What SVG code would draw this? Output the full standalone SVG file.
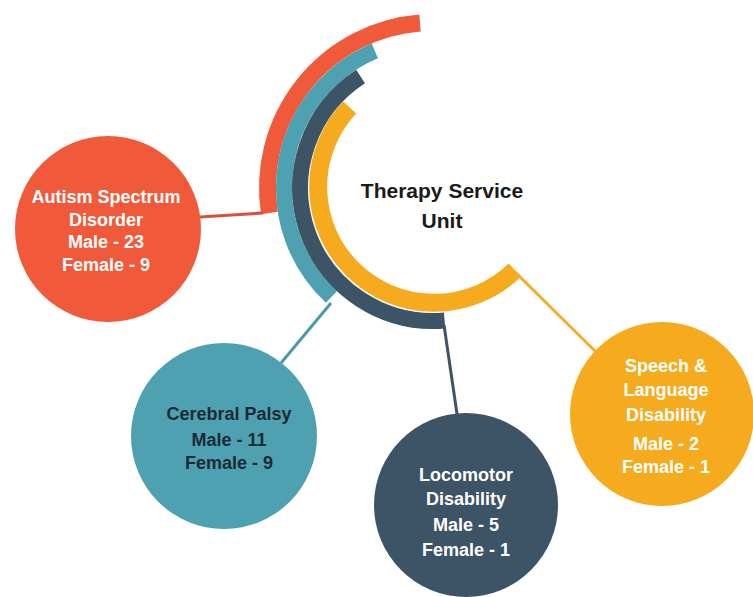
<svg xmlns="http://www.w3.org/2000/svg" width="753" height="597" viewBox="0 0 753 597">
<style>
.band{fill:none;stroke-linecap:butt}
.conn{fill:none;stroke-width:3;stroke-linecap:butt}
.t{font-family:"Liberation Sans",Arial,sans-serif;font-weight:bold;text-anchor:middle}
.w{fill:#ffffff;font-size:18px}
.d{fill:#1c2a35;font-size:18px}
.title{fill:#1a1a1a;font-size:21px}
</style>
<rect width="753" height="597" fill="#ffffff"/>
<g id="hub">
<path class="band" d="M 420.0 23.0 A 165.5 165.5 0 0 0 269.4 213.0" stroke="#f05a3a" stroke-width="17"/>
<path class="band" d="M 374.8 50.8 A 149 149 0 0 0 331.4 297.0" stroke="#4ea1b1" stroke-width="16"/>
<path class="band" d="M 360.6 76.5 A 133 133 0 0 0 444.6 320.5" stroke="#3d5366" stroke-width="16"/>
<path class="band" d="M 349.6 107.4 A 116 116 0 0 0 515.0 270.0" stroke="#f5ab1d" stroke-width="18"/>
<text class="t title" x="442" y="198">Therapy Service</text>
<text class="t title" x="442" y="228">Unit</text>
</g>
<g id="connectors">
<line class="conn" x1="263" y1="213" x2="200" y2="217" stroke="#d9503a"/>
<line class="conn" x1="331" y1="303" x2="281" y2="363" stroke="#4a9aaa"/>
<line class="conn" x1="444" y1="325" x2="457" y2="414" stroke="#3d5366"/>
<line class="conn" x1="515" y1="272" x2="596" y2="352" stroke="#f0ae2a" stroke-width="2.5"/>
</g>
<g id="autism">
<circle cx="108" cy="229" r="93" fill="#f05a3a"/>
<text class="t w" x="106" y="203">Autism Spectrum</text>
<text class="t w" x="106" y="226">Disorder</text>
<text class="t w" x="106" y="248">Male - 23</text>
<text class="t w" x="106" y="271">Female - 9</text>
</g>
<g id="cerebral">
<circle cx="224" cy="436" r="93" fill="#4ea1b1"/>
<text class="t d" x="229" y="420">Cerebral Palsy</text>
<text class="t d" x="229" y="446">Male - 11</text>
<text class="t d" x="229" y="469">Female - 9</text>
</g>
<g id="locomotor">
<circle cx="466" cy="505" r="92" fill="#3d5366"/>
<text class="t w" x="466" y="481">Locomotor</text>
<text class="t w" x="466" y="505">Disability</text>
<text class="t w" x="466" y="531">Male - 5</text>
<text class="t w" x="466" y="556">Female - 1</text>
</g>
<g id="speech">
<circle cx="662" cy="414" r="92" fill="#f5ab1d"/>
<text class="t w" x="666" y="372">Speech &amp;</text>
<text class="t w" x="666" y="396">Language</text>
<text class="t w" x="666" y="421">Disability</text>
<text class="t w" x="666" y="450">Male - 2</text>
<text class="t w" x="666" y="473">Female - 1</text>
</g>
</svg>
